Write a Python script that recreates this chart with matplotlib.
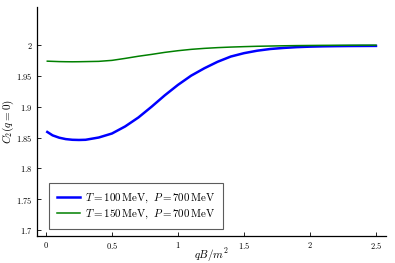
import matplotlib
matplotlib.use("Agg")
import matplotlib.pyplot as plt
from matplotlib.ticker import FuncFormatter

plt.rcParams['mathtext.fontset'] = 'cm'
plt.rcParams['font.family'] = ['serif']
plt.rcParams['font.serif'] = ['DejaVu Serif']

x = [0.01, 0.05, 0.1, 0.15, 0.2, 0.25, 0.3, 0.4, 0.5, 0.6, 0.7, 0.8, 0.9,
     1.0, 1.1, 1.2, 1.3, 1.4, 1.5, 1.6, 1.7, 1.8, 1.9, 2.0, 2.1, 2.2, 2.3,
     2.4, 2.5]
c2_T100 = [1.8590, 1.8535, 1.8497, 1.8474, 1.8463, 1.8460, 1.8463, 1.8500,
           1.8565, 1.8680, 1.8825, 1.9000, 1.9185, 1.9355, 1.9505, 1.9625,
           1.9730, 1.9815, 1.9870, 1.9910, 1.9938, 1.9955, 1.9968, 1.9976,
           1.9981, 1.9984, 1.9986, 1.9987, 1.9988]
c2_T150 = [1.9740, 1.9737, 1.9733, 1.9731, 1.9730, 1.9731, 1.9733, 1.9737,
           1.9753, 1.9785, 1.9820, 1.9850, 1.9883, 1.9910, 1.9932, 1.9948,
           1.9960, 1.9969, 1.9976, 1.9982, 1.9986, 1.9990, 1.9993, 1.9995,
           1.9997, 1.9998, 1.9999, 2.0000, 2.0000]
labels = [r'$T = 100\,\mathrm{MeV},\ P = 700\,\mathrm{MeV}$',
          r'$T = 150\,\mathrm{MeV},\ P = 700\,\mathrm{MeV}$']
xticks = [0, 0.5, 1, 1.5, 2, 2.5]
yticks = [1.7, 1.75, 1.8, 1.85, 1.9, 1.95, 2.0]

fig = plt.figure(figsize=(3.95, 2.63), dpi=100)
ax = fig.add_axes([37/395, 27/263, 349/395, 229/263])

ax.plot(x, c2_T100, color=(0, 0, 1), lw=1.8, label=labels[0])
ax.plot(x, c2_T150, color=(0, 0.5, 0), lw=1.1, label=labels[1])

ax.set_xlim(-0.068, 2.576)
ax.set_ylim(1.690, 2.062)
ax.set_xticks(xticks)
ax.set_yticks(yticks)
fmt = FuncFormatter(lambda v, p: r'$%s$' % ('%g' % v))
ax.xaxis.set_major_formatter(fmt)
ax.yaxis.set_major_formatter(fmt)
ax.tick_params(direction='in', length=3, width=0.6, labelsize=6, colors='black', pad=3)
for s in ['top', 'right']:
    ax.spines[s].set_visible(False)
for s in ['left', 'bottom']:
    ax.spines[s].set_linewidth(0.9)

ax.set_xlabel(r'$qB/m^2$', fontsize=8)
ax.xaxis.set_label_coords(0.5, -0.085, transform=ax.transAxes)
ax.xaxis.label.set_va('center')
ax.set_ylabel(r'$C_2(q=0)$', fontsize=8)
ax.yaxis.set_label_coords(-0.083, 0.5)
ax.yaxis.label.set_va('center')

leg = ax.legend(loc='lower left', bbox_to_anchor=(0.034, 0.031), fontsize=7.9,
                frameon=True, fancybox=False, borderaxespad=0,
                handlelength=2.1, handletextpad=0.4, borderpad=0.75,
                labelspacing=0.25)
leg.get_frame().set_edgecolor('#333333')
leg.get_frame().set_linewidth(0.8)

fig.savefig('out.png', dpi=100)
